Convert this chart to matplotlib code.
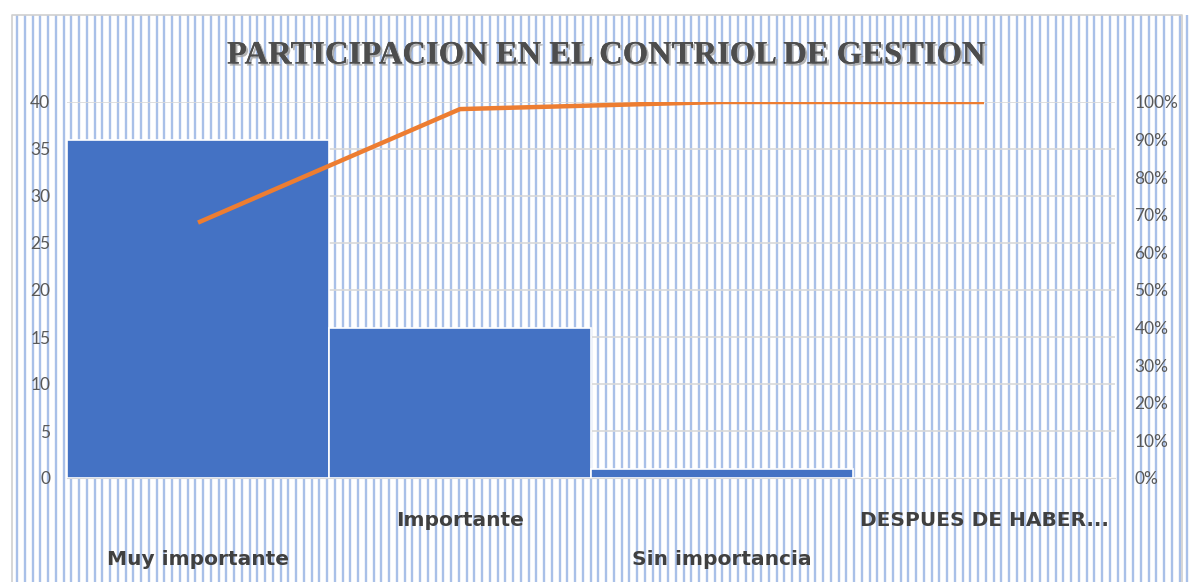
import numpy as np
import matplotlib
matplotlib.use("Agg")
import matplotlib.pyplot as plt
import matplotlib.patheffects as pe
from matplotlib.ticker import FuncFormatter

# === Data ===
categories = ["Muy importante", "Importante", "Sin importancia", "DESPUES DE HABER..."]
counts = [36, 16, 1, 0]
cum_pct = np.cumsum(counts) / sum(counts)

W, H = 1190, 582
fig = plt.figure(figsize=(W / 100, H / 100), dpi=100)
fig.patch.set_facecolor("white")

# === Striped background ===
bg = fig.add_axes([0, 0, 1, 1])
bg.set_xlim(0, W)
bg.set_ylim(H, 0)
bg.axis("off")
bg.vlines(np.arange(17, W, 7.75), 15, H, color="#A9C0E8", lw=1.7)
bg.plot([12, 12, W - 8, W - 8], [H, 15, 15, H], color="#D0D0D0", lw=1.2)

# === Main axes (pixel layout) ===
left, right, top, bottom = 67, 1115, 102, 478
ax = fig.add_axes([left / W, (H - bottom) / H, (right - left) / W, (bottom - top) / H])
ax.patch.set_alpha(0)
x = np.arange(len(categories))
ax.bar(x, counts, width=1, color="#4472C4", edgecolor="white", linewidth=1.2, zorder=3)
ax.set_xlim(-0.5, len(categories) - 0.5)
ax.set_ylim(0, 40)
ax.set_yticks(range(0, 41, 5))
ax.yaxis.grid(True, color="#D9D9D9", lw=1.2, zorder=0)
ax.set_axisbelow(True)
for s in ax.spines.values():
    s.set_visible(False)
ax.spines["bottom"].set_visible(True)
ax.spines["bottom"].set_color("#D9D9D9")
ax.tick_params(axis="y", length=0, pad=12, labelsize=12.5, labelcolor="#595959")
ax.tick_params(axis="x", length=0)
ax.set_xticks([])
for lbl in ax.get_yticklabels():
    lbl.set_fontfamily("Lato")

# staggered category labels
for i, c in enumerate(categories):
    yy = -0.218 if i % 2 == 0 else -0.114
    ax.text(i, yy, c, transform=ax.get_xaxis_transform(), ha="center", va="center",
            fontsize=14.5, fontweight="bold", color="#404040", family="DejaVu Sans")

# === Cumulative line ===
ax2 = ax.twinx()
ax2.plot(x, cum_pct, color="#ED7D31", lw=3.2, solid_capstyle="butt", zorder=4)
ax2.set_ylim(0, 1)
ax2.set_yticks(np.arange(0, 1.01, 0.1))
ax2.yaxis.set_major_formatter(FuncFormatter(lambda v, p: f"{v * 100:.0f}%"))
for s in ax2.spines.values():
    s.set_visible(False)
ax2.tick_params(axis="y", length=0, pad=14, labelsize=12.5, labelcolor="#595959")
for lbl in ax2.get_yticklabels():
    lbl.set_fontfamily("Lato")

# === Title ===
fig.text(606 / W, 1 - 55 / H, "PARTICIPACION EN EL CONTRIOL DE GESTION",
         ha="center", va="center", fontsize=23.5, fontweight="bold",
         family="Liberation Serif", color="#4D4D4D",
         path_effects=[pe.withSimplePatchShadow(offset=(1.5, -1.5), shadow_rgbFace="#A0A0A0", alpha=0.8),
                       pe.Normal()])

fig.savefig("out.png", dpi=100)
